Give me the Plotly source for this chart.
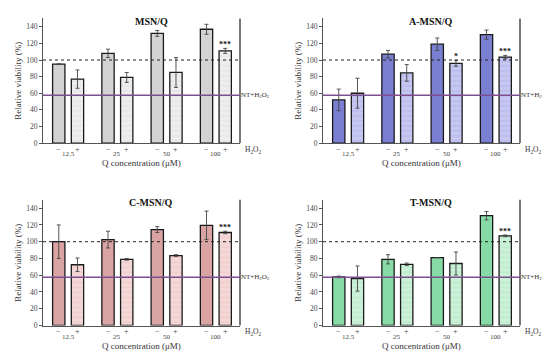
import plotly.graph_objects as go

# ---------------- data ----------------
groups = [0, 1, 2, 3]
group_labels = ["12.5", "25", "50", "100"]
treatment_labels = ["−", "+"]
control_level = 100
nt_h2o2_level = 57.5

titles = ["MSN/Q", "A-MSN/Q", "C-MSN/Q", "T-MSN/Q"]

msn_minus = [95, 108, 132, 137]
msn_minus_err = [0.5, 5, 3.5, 6]
msn_plus = [77, 79, 85, 111]
msn_plus_err = [11, 6, 18, 3]
msn_sig = ["", "", "", "***"]

amsn_minus = [52, 107, 119, 130.5]
amsn_minus_err = [13, 4.5, 7.5, 5.5]
amsn_plus = [60, 84.5, 96, 103.5]
amsn_plus_err = [18, 10, 3.5, 2]
amsn_sig = ["", "", "*", "***"]

cmsn_minus = [100, 102.5, 114.5, 119.5]
cmsn_minus_err = [20, 10, 3.5, 17]
cmsn_plus = [72.5, 79, 83.5, 111]
cmsn_plus_err = [8, 1, 1, 1.5]
cmsn_sig = ["", "", "", "***"]

tmsn_minus = [58, 79, 81, 131]
tmsn_minus_err = [1, 5.5, 0, 5]
tmsn_plus = [56, 73, 74, 107]
tmsn_plus_err = [15, 1.5, 13.7, 1]
tmsn_sig = ["", "", "", "***"]

panels = [
    (msn_minus, msn_minus_err, msn_plus, msn_plus_err, msn_sig),
    (amsn_minus, amsn_minus_err, amsn_plus, amsn_plus_err, amsn_sig),
    (cmsn_minus, cmsn_minus_err, cmsn_plus, cmsn_plus_err, cmsn_sig),
    (tmsn_minus, tmsn_minus_err, tmsn_plus, tmsn_plus_err, tmsn_sig),
]

minus_colors = ["#d3d3d3", "#7b7fd2", "#dba4a4", "#86dba6"]
plus_colors = ["#eeeeee", "#c6c8f1", "#f4d8d8", "#cbf1d8"]
stripe_colors = ["#dadada", "#a3a6e6", "#ebc0c0", "#a9e7bf"]

# ---------------- layout geometry ----------------
W, H = 550, 359
FONT = "Liberation Serif, Times New Roman, DejaVu Serif, serif"


def fx(px):
    return px / W


def fy(py):
    return 1 - py / H


xpos = [(35, 232), (315, 512), (35, 232), (315, 512)]
ypos = [(10.6, 137), (10.6, 137), (194.5, 322), (194.5, 322)]

fig = go.Figure()
layout = dict(
    width=W, height=H, margin=dict(l=0, r=0, t=0, b=0),
    plot_bgcolor="white", paper_bgcolor="white", showlegend=False,
    barmode="overlay", font=dict(family=FONT, color="#333"),
)
annotations = []
shapes = []

for i, (mv, me, pv, pe, sig) in enumerate(panels):
    ax = "" if i == 0 else str(i + 1)
    xr, yr = "x" + ax, "y" + ax
    x0, x1 = xpos[i]
    yt, yb = ypos[i]
    fig.add_trace(go.Bar(
        x=groups, y=mv, width=0.25, offset=-0.315, xaxis=xr, yaxis=yr,
        marker=dict(color=minus_colors[i], line=dict(color="#1a1a1a", width=1.3)),
        error_y=dict(type="data", array=me, color="#444", thickness=0.9, width=2),
    ))
    fig.add_trace(go.Bar(
        x=groups, y=pv, width=0.25, offset=0.065, xaxis=xr, yaxis=yr,
        marker=dict(color=plus_colors[i], line=dict(color="#1a1a1a", width=1.3),
                    pattern=dict(shape="-", fgcolor=stripe_colors[i], bgcolor=plus_colors[i],
                                 size=5, solidity=0.25)),
        error_y=dict(type="data", array=pe, color="#444", thickness=0.9, width=2),
    ))
    layout["xaxis" + ax] = dict(
        domain=[fx(x0), fx(x1)], range=[-0.51, 3.49], anchor=yr,
        showticklabels=False, ticks="", showgrid=False, zeroline=False,
        showline=True, linecolor="#555", linewidth=1,
    )
    layout["yaxis" + ax] = dict(
        domain=[fy(yb), fy(yt)], range=[0, 150], anchor=xr,
        tickvals=[0, 20, 40, 60, 80, 100, 120, 140], ticks="outside", ticklen=3,
        tickcolor="#555", showgrid=False, zeroline=False,
        showline=True, linecolor="#555", linewidth=1,
        tickfont=dict(family=FONT, size=7.5, color="#444"),
        title=dict(text="Relative viability (%)", font=dict(family=FONT, size=9, color="#333"),
                   standoff=3),
    )
    # right boundary line
    shapes.append(dict(type="line", xref=xr + " domain", yref=yr + " domain",
                       x0=1, x1=1, y0=0, y1=1, line=dict(color="#777", width=2)))
    # control 100% dotted line
    shapes.append(dict(type="line", xref=xr + " domain", yref=yr, x0=0, x1=1,
                       y0=control_level, y1=control_level,
                       line=dict(color="#222", width=1, dash="dot")))
    # NT+H2O2 level line
    shapes.append(dict(type="line", xref=xr + " domain", yref=yr, x0=0, x1=1,
                       y0=nt_h2o2_level, y1=nt_h2o2_level,
                       line=dict(color="#7d4f92", width=1.5)))
    annotations.append(dict(xref=xr + " domain", yref=yr, x=1, y=nt_h2o2_level,
                            xanchor="left", yanchor="middle", xshift=0, borderpad=0,
                            showarrow=False, text="NT+H<sub>2</sub>O<sub>2</sub>",
                            font=dict(family=FONT, size=7, color="#333")))
    annotations.append(dict(xref=xr + " domain", yref="paper", x=1, y=fy(yb + 7),
                            xanchor="left", yanchor="middle", xshift=3, showarrow=False,
                            text="H<sub>2</sub>O<sub>2</sub>",
                            font=dict(family=FONT, size=7.5, color="#333")))
    # title
    annotations.append(dict(xref=xr + " domain", yref="paper", x=0.55, y=fy(yt + 3),
                            xanchor="center", yanchor="middle", showarrow=False,
                            text="<b>" + titles[i] + "</b>",
                            font=dict(family=FONT, size=10, color="#111")))
    # treatment (−/+) labels and group labels
    for g, lab in zip(groups, group_labels):
        for off, tl in zip([-0.19, 0.19], treatment_labels):
            annotations.append(dict(xref=xr, yref="paper", x=g + off, y=fy(yb + 6),
                                    xanchor="center", yanchor="middle", showarrow=False,
                                    text=tl, font=dict(family=FONT, size=8, color="#444")))
        annotations.append(dict(xref=xr, yref="paper", x=g, y=fy(yb + 11.5),
                                xanchor="center", yanchor="middle", showarrow=False,
                                text=lab, font=dict(family=FONT, size=7, color="#444")))
    annotations.append(dict(xref=xr + " domain", yref="paper", x=0.5, y=fy(yb + 20.5),
                            xanchor="center", yanchor="middle", showarrow=False,
                            text="Q concentration (μM)",
                            font=dict(family=FONT, size=9, color="#333")))
    # significance stars
    for g, v, e, s in zip(groups, pv, pe, sig):
        if s:
            annotations.append(dict(xref=xr, yref=yr, x=g + 0.19, y=v + e,
                                    xanchor="center", yanchor="bottom", showarrow=False,
                                    yshift=-3, text="<b>" + s + "</b>",
                                    font=dict(family=FONT, size=8, color="#111")))

layout["annotations"] = annotations
layout["shapes"] = shapes
fig.update_layout(**layout)
fig.write_html("out.html")
